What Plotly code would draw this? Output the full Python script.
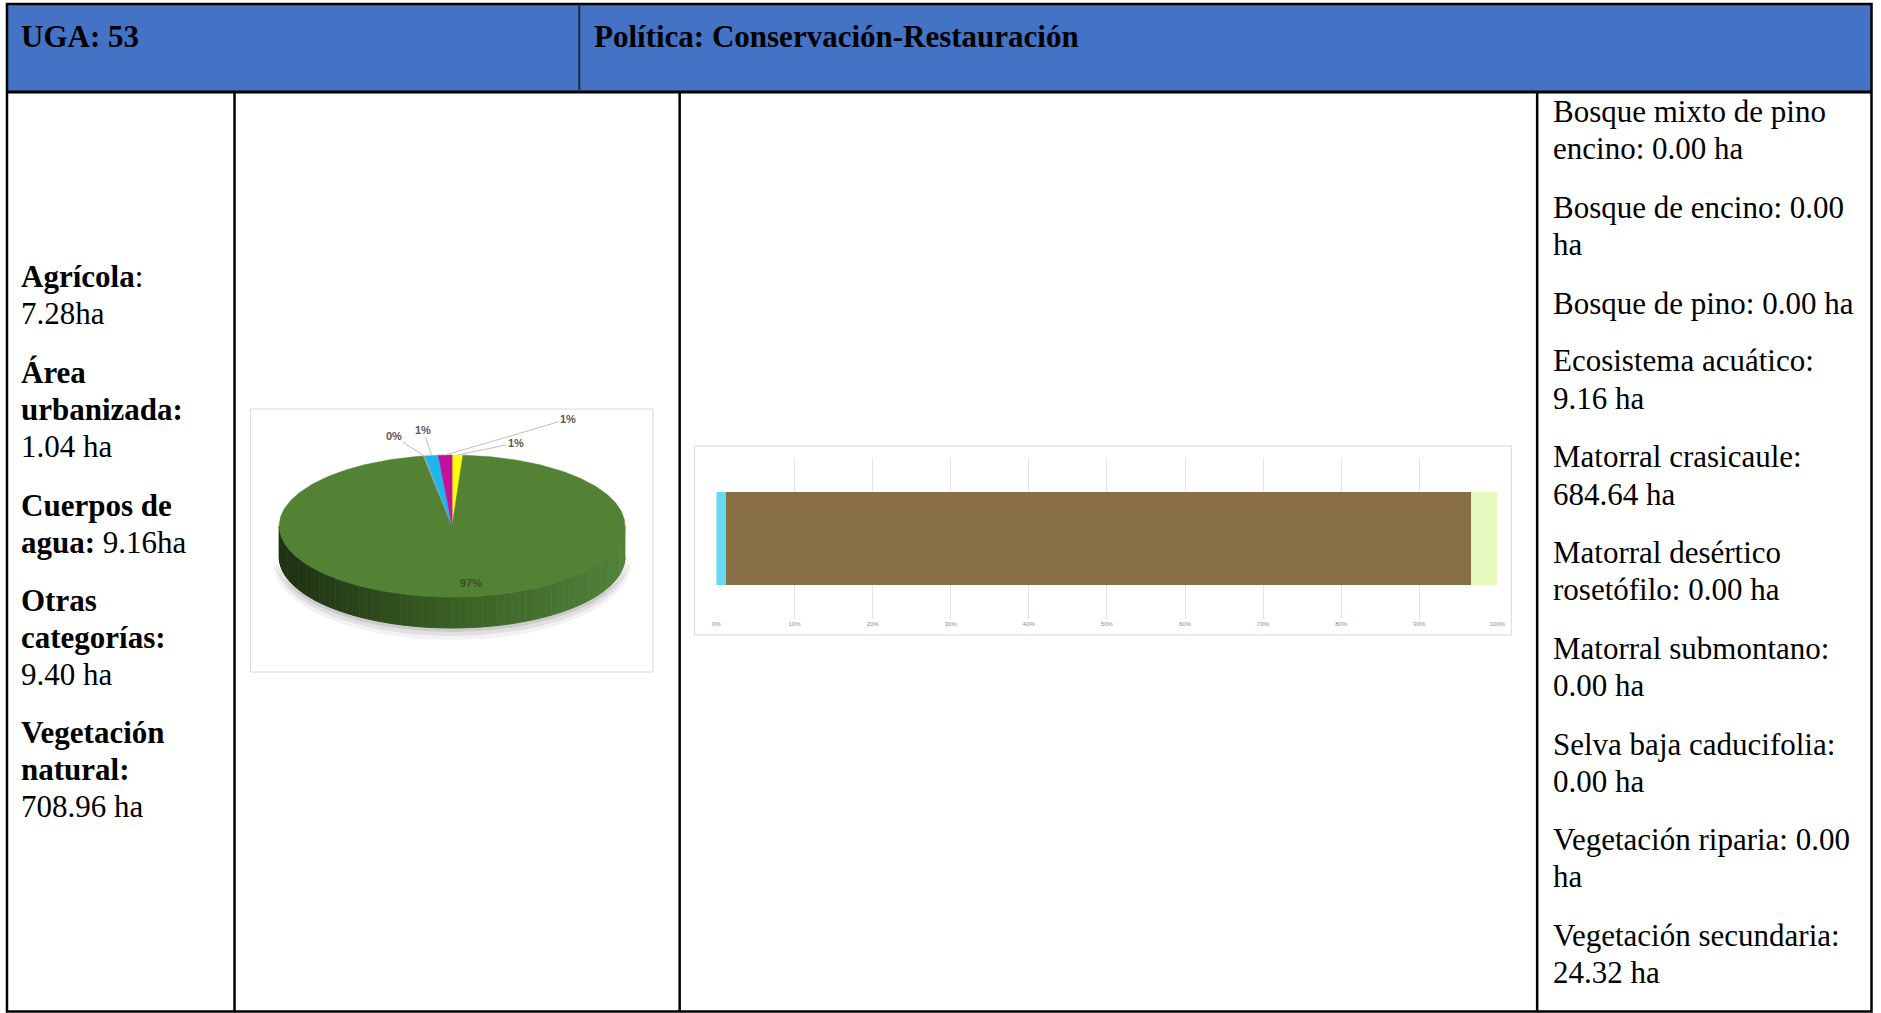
import textwrap
import numpy as np
import plotly.graph_objects as go

W, H = 1881, 1013

uga = "53"
politica = "Conservación-Restauración"

# uso de suelo (columna izquierda y pastel)
uso_categorias = ["Agrícola", "Área urbanizada", "Cuerpos de agua", "Otras categorías", "Vegetación natural"]
uso_ha = [7.28, 1.04, 9.16, 9.40, 708.96]
uso_colores = ["#FFFF00", "#A5A5A5", "#1EB4EE", "#C4119A", "#548235"]
pastel_etiquetas = ["1%", "0%", "1%", "1%", "97%"]
pastel_orden = [0, 4, 1, 2, 3]  # sentido horario desde las 12

# vegetacion natural (columna derecha y barra)
veg_categorias = ["Bosque mixto de pino encino", "Bosque de encino", "Bosque de pino",
                  "Ecosistema acuático", "Matorral crasicaule", "Matorral desértico rosetófilo",
                  "Matorral submontano", "Selva baja caducifolia", "Vegetación riparia",
                  "Vegetación secundaria"]
veg_ha = [0.00, 0.00, 0.00, 9.16, 684.64, 0.00, 0.00, 0.00, 0.00, 24.32]
veg_colores = ["#70AD47", "#A9D18E", "#375623", "#66D9F5", "#886F44", "#C9A26B",
               "#BF9000", "#7F6000", "#2E75B6", "#E6FAC0"]
barra_ticks = [0, 0.1, 0.2, 0.3, 0.4, 0.5, 0.6, 0.7, 0.8, 0.9, 1.0]


def fx(p):
    return p / W


def fy(p):
    return 1 - p / H


fig = go.Figure()

# ---------- pastel 3D (elipse) ----------
cx, cy, a, b, t = 202, 117, 174, 71, 31


def lerp(c1, c2, s):
    c1 = [int(c1[i:i + 2], 16) for i in (1, 3, 5)]
    c2 = [int(c2[i:i + 2], 16) for i in (1, 3, 5)]
    return "rgb(%d,%d,%d)" % tuple(round(u + (v - u) * s) for u, v in zip(c1, c2))


# sombra
th = np.radians(np.linspace(90, 270, 80))
for k, al in enumerate([0.05, 0.07, 0.09]):
    d = 6 - 2 * k
    sx = np.concatenate([cx + (a + d) * np.sin(th), (cx + (a + d) * np.sin(th))[::-1]])
    sy = np.concatenate([cy - b * np.cos(th) + t - 2, (cy - (b + d) * np.cos(th) + t + d)[::-1]])
    fig.add_trace(go.Scatter(x=sx, y=sy, fill="toself", fillcolor="rgba(0,0,0,%.2f)" % al,
                             line=dict(width=0), mode="lines", hoverinfo="skip", showlegend=False))

# lateral
n = 72
angs = np.linspace(90, 270, n + 1)
for k in range(n):
    tt = np.radians(np.linspace(angs[k], angs[k + 1], 4))
    xs = cx + a * np.sin(tt)
    ys = cy - b * np.cos(tt)
    px_ = np.concatenate([xs, xs[::-1]])
    py_ = np.concatenate([ys, ys[::-1] + t])
    s = 1 - (np.sin(np.radians((angs[k] + angs[k + 1]) / 2)) + 1) / 2
    col = lerp("#52823A", "#3A5F24", s / 0.5) if s < 0.5 else lerp("#3A5F24", "#1C2F11", (s - 0.5) / 0.5)
    fig.add_trace(go.Scatter(x=px_, y=py_, fill="toself", fillcolor=col, mode="lines",
                             line=dict(width=1, color=col), hoverinfo="skip", showlegend=False))

# cara superior
total = sum(uso_ha)
inicio = 0.0
medios = {}
for i in pastel_orden:
    ang = uso_ha[i] / total * 360
    tt = np.radians(np.linspace(inicio, inicio + ang, max(3, int(ang) + 2)))
    xs = np.concatenate([[cx], cx + a * np.sin(tt), [cx]])
    ys = np.concatenate([[cy], cy - b * np.cos(tt), [cy]])
    fig.add_trace(go.Scatter(x=xs, y=ys, fill="toself", fillcolor=uso_colores[i], mode="lines",
                             line=dict(width=0.5, color=uso_colores[i]), name=uso_categorias[i],
                             hoverinfo="name", showlegend=False))
    medios[i] = np.radians(inicio + ang / 2)
    inicio += ang

# etiquetas del pastel
pos_etiq = {1: (143, 27), 2: (173, 21), 3: (319, 10), 0: (266, 34)}
for i, (lx, ly) in pos_etiq.items():
    m = medios[i]
    fig.add_annotation(x=cx + a * np.sin(m), y=cy - b * np.cos(m), xref="x", yref="y",
                       ax=lx, ay=ly, axref="x", ayref="y", text="<b>%s</b>" % pastel_etiquetas[i],
                       showarrow=True, arrowhead=0, arrowwidth=1, arrowcolor="#BFBFBF",
                       font=dict(family="Liberation Sans", size=11, color="#595959"))
m = medios[4]
fig.add_annotation(x=cx + 0.8 * a * np.sin(m) + 12, y=cy - 0.8 * b * np.cos(m), xref="x", yref="y",
                   text="<b>%s</b>" % pastel_etiquetas[4], showarrow=False,
                   font=dict(family="Liberation Sans", size=11, color="#3E4D33"))

# ---------- barra 100% ----------
for i, cat in enumerate(veg_categorias):
    fig.add_trace(go.Bar(x=[veg_ha[i]], y=["UGA " + uga], orientation="h", name=cat,
                         marker=dict(color=veg_colores[i], line=dict(width=0)),
                         xaxis="x2", yaxis="y2", showlegend=False))

# ---------- textos ----------
serif = "Liberation Serif"
fs = 31
interlinea = 37.4


def parrafo(lineas, x, y0):
    for j, ln in enumerate(lineas):
        fig.add_annotation(x=fx(x), y=fy(y0 + j * interlinea), xref="paper", yref="paper",
                           xanchor="left", yanchor="middle", align="left", text=ln, showarrow=False,
                           font=dict(family=serif, size=fs, color="black"))


parrafo(["<b>UGA: %s</b>" % uga], 15, 37)
parrafo(["<b>Política: %s</b>" % politica], 592, 37)

txt_uso = [
    ["<b>%s</b>:" % uso_categorias[0], "%.2fha" % uso_ha[0]],
    ["<b>Área</b>", "<b>urbanizada:</b>", "%.2f ha" % uso_ha[1]],
    ["<b>Cuerpos de</b>", "<b>agua:</b> %.2fha" % uso_ha[2]],
    ["<b>Otras</b>", "<b>categorías:</b>", "%.2f ha" % uso_ha[3]],
    ["<b>Vegetación</b>", "<b>natural:</b>", "%.2f ha" % uso_ha[4]],
]
y_uso = [276, 372, 505, 600, 732]
for lineas, yy in zip(txt_uso, y_uso):
    parrafo(lineas, 15, yy)

y_veg = [111.5, 207.5, 303.5, 361, 457, 552, 648, 744, 839, 935]
for cat, v, yy in zip(veg_categorias, veg_ha, y_veg):
    parrafo(textwrap.wrap("%s: %.2f ha" % (cat, v), width=24), 1557, yy)

# ---------- tabla ----------
negro = dict(color="black", width=2.5)
izq, der, arr, aba = 3, 1879.5, 4, 1011.5
shapes = [
    dict(type="rect", x0=fx(izq), x1=fx(der), y0=fy(arr), y1=fy(92), fillcolor="#4472C4", line=dict(width=0), layer="below"),
    dict(type="rect", x0=fx(izq), x1=fx(der), y0=fy(arr), y1=fy(aba), line=negro),
    dict(type="line", x0=fx(izq), x1=fx(der), y0=fy(92), y1=fy(92), line=dict(color="black", width=3)),
    dict(type="line", x0=fx(579), x1=fx(579), y0=fy(arr), y1=fy(92), line=dict(color="#1F2A44", width=2)),
    dict(type="line", x0=fx(232), x1=fx(232), y0=fy(92), y1=fy(aba), line=negro),
    dict(type="line", x0=fx(680), x1=fx(680), y0=fy(92), y1=fy(aba), line=negro),
    dict(type="line", x0=fx(1543), x1=fx(1543), y0=fy(92), y1=fy(aba), line=negro),
    dict(type="rect", x0=fx(248), x1=fx(653), y0=fy(409), y1=fy(672), line=dict(color="#D9D9D9", width=1)),
    dict(type="rect", x0=fx(695), x1=fx(1517), y0=fy(446), y1=fy(635), line=dict(color="#D9D9D9", width=1)),
]
for s_ in shapes:
    s_["xref"] = "paper"
    s_["yref"] = "paper"

fig.update_layout(
    width=W, height=H,
    margin=dict(l=0, r=0, t=0, b=0),
    paper_bgcolor="white", plot_bgcolor="rgba(0,0,0,0)",
    shapes=shapes,
    barmode="stack", barnorm="fraction", bargap=0.42,
    xaxis=dict(domain=[fx(249), fx(652)], range=[0, 403], visible=False, fixedrange=True),
    yaxis=dict(domain=[fy(672), fy(409)], range=[263, 0], visible=False, fixedrange=True),
    xaxis2=dict(domain=[fx(717), fx(1503)], range=[0, 1], anchor="y2", tickvals=barra_ticks,
                tickformat=".0%", tickfont=dict(family="Liberation Sans", size=6, color="#8C8C8C"),
                showgrid=True, gridcolor="#E3E3E3", gridwidth=1, zeroline=False, showline=False, ticks=""),
    yaxis2=dict(domain=[fy(619), fy(458)], anchor="x2", showticklabels=False, showgrid=False,
                zeroline=False, showline=False),
)

fig.write_html("out.html", config={"displayModeBar": False},
               post_script="document.body.style.margin='0';document.body.style.overflow='hidden';")
